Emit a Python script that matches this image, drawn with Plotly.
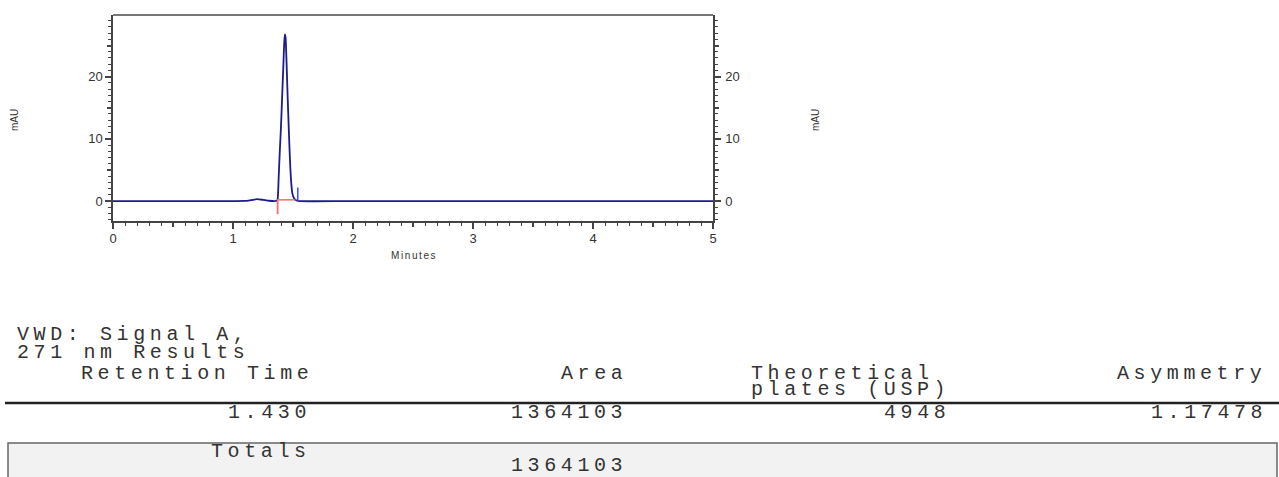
import plotly.graph_objects as go

# ---------------- data ----------------
time_min = [0.0, 0.5, 1.0, 1.10, 1.15, 1.20, 1.25, 1.30, 1.365, 1.372, 1.38, 1.39, 1.40, 1.41,
            1.42, 1.428, 1.433, 1.438, 1.445, 1.455, 1.465, 1.475, 1.485, 1.495, 1.51, 1.53,
            1.56, 2.0, 3.0, 4.0, 5.0]
signal_mau = [0.0, 0.0, 0.0, 0.02, 0.15, 0.3, 0.2, 0.05, 0.05, 0.3, 3.5, 8.0, 12.0, 17.0,
              22.0, 25.8, 26.8, 26.3, 23.0, 17.0, 11.5, 6.5, 3.0, 1.2, 0.4, 0.1,
              0.0, 0.0, 0.0, 0.0, 0.0]

baseline_x = [1.372, 1.52]
baseline_y = [0.2, 0.2]
start_marker_x = [1.372, 1.372]
start_marker_y = [0.3, -2.1]
end_marker_x = [1.54, 1.54]
end_marker_y = [0.0, 2.2]

x_range = [0, 5]
y_range = [-3.2, 29.9]

# ---------------- table text ----------------
table_title = ["VWD: Signal A,", "271 nm Results"]
col_headers = ["Retention Time", "Area", "Theoretical", "plates (USP)", "Asymmetry"]
row_values = ["1.430", "1364103", "4948", "1.17478"]
totals_label = "Totals"
totals_area = "1364103"

# ---------------- figure ----------------
W, H = 1279, 477
L, T, PW, PH = 113, 15, 600, 206
R, B = W - L - PW, H - T - PH

def px(xp):
    return (xp - L) / PW

def py(yp):
    return (T + PH - yp) / PH

LINE = "#1c1c8a"

fig = go.Figure()
fig.add_trace(go.Scatter(x=time_min, y=signal_mau, mode="lines", line_shape="spline",
                         line=dict(color=LINE, width=1.8, smoothing=0.6), showlegend=False,
                         hoverinfo="skip"))
fig.add_trace(go.Scatter(x=baseline_x, y=baseline_y, mode="lines",
                         line=dict(color="#ff6b6b", width=1.5), showlegend=False))
fig.add_trace(go.Scatter(x=start_marker_x, y=start_marker_y, mode="lines",
                         line=dict(color="#ff6b6b", width=1.8), showlegend=False))
fig.add_trace(go.Scatter(x=end_marker_x, y=end_marker_y, mode="lines",
                         line=dict(color="#3a4cff", width=1.5), showlegend=False))
# invisible traces to carry the overlay axes (medium ticks / right axis)
fig.add_trace(go.Scatter(x=[None], y=[None], xaxis="x2", yaxis="y2", showlegend=False))
fig.add_trace(go.Scatter(x=[None], y=[None], xaxis="x", yaxis="y3", showlegend=False))
fig.add_trace(go.Scatter(x=[None], y=[None], xaxis="x", yaxis="y4", showlegend=False))

tickfont = dict(family="Arial, Liberation Sans, sans-serif", size=13, color="#333")
AX = "#444"

fig.update_layout(
    width=W, height=H,
    margin=dict(l=L, r=R, t=T, b=B, pad=0, autoexpand=False),
    paper_bgcolor="white", plot_bgcolor="white",
    showlegend=False,
    xaxis=dict(range=x_range, dtick=1, tick0=0, ticks="outside", ticklen=6, tickwidth=1.5,
               tickcolor=AX, showline=True, linecolor=AX, linewidth=1.5, mirror=False,
               showgrid=False, zeroline=False, tickfont=tickfont, ticklabelstandoff=-1,
               automargin=False,
               minor=dict(dtick=0.1, ticks="outside", ticklen=3, tickcolor=AX, tickwidth=1.2,
                          showgrid=False)),
    xaxis2=dict(range=x_range, overlaying="x", side="bottom", anchor="y", dtick=0.5, tick0=0,
                ticks="outside", ticklen=5, tickwidth=1.5, tickcolor=AX, showticklabels=False,
                showline=False, showgrid=False, zeroline=False, automargin=False),
    yaxis=dict(range=y_range, dtick=10, tick0=0, ticks="outside", ticklen=6, tickwidth=1.5,
               tickcolor=AX, showline=True, linecolor=AX, linewidth=1.5, showgrid=False,
               zeroline=False, tickfont=tickfont, ticklabelstandoff=0, automargin=False,
               minor=dict(dtick=1, ticks="outside", ticklen=3, tickcolor=AX, tickwidth=1.2,
                          showgrid=False)),
    yaxis2=dict(range=y_range, overlaying="y", anchor="x2", side="left", dtick=5, tick0=0,
                ticks="outside", ticklen=5, tickwidth=1.5, tickcolor=AX, showticklabels=False,
                showline=False, showgrid=False, zeroline=False, automargin=False),
    yaxis3=dict(range=y_range, overlaying="y", anchor="x", side="right", dtick=10, tick0=0,
                ticks="outside", ticklen=6, tickwidth=1.5, tickcolor=AX, showline=True,
                linecolor=AX, linewidth=1.5, showgrid=False, zeroline=False, tickfont=tickfont,
                ticklabelstandoff=2, automargin=False,
                minor=dict(dtick=1, ticks="outside", ticklen=3, tickcolor=AX, tickwidth=1.2,
                           showgrid=False)),
    yaxis4=dict(range=y_range, overlaying="y", anchor="x", side="right", dtick=5, tick0=0,
                ticks="outside", ticklen=5, tickwidth=1.5, tickcolor=AX, showticklabels=False,
                showline=False, showgrid=False, zeroline=False, automargin=False),
)

shapes = [
    # top frame line
    dict(type="line", xref="paper", yref="paper", x0=0, x1=1, y0=1, y1=1,
         line=dict(color="#777", width=2)),
    # table rule
    dict(type="line", xref="paper", yref="paper", x0=px(5), x1=px(1290), y0=py(403), y1=py(403),
         line=dict(color="#222", width=2.5)),
    # totals box
    dict(type="rect", xref="paper", yref="paper", x0=px(8), x1=px(1277), y0=py(443), y1=py(490),
         fillcolor="#f2f2f2", line=dict(color="#666", width=1.5), layer="below"),
]
fig.update_layout(shapes=shapes)

small = dict(family="Arial, Liberation Sans, sans-serif", size=10, color="#333")
anns = [
    dict(text='<span style="letter-spacing:1.6px">Minutes</span>', x=px(414), y=py(256),
         font=small, xanchor="center", yanchor="middle"),
    dict(text="mAU", x=px(14), y=py(120), font=small, textangle=-90, xanchor="center", yanchor="middle"),
    dict(text="mAU", x=px(815), y=py(120), font=small, textangle=-90, xanchor="center", yanchor="middle"),
]

mono = dict(family="Liberation Mono, Courier New, monospace", size=20, color="#333")

def mtext(s, xl, yc):
    return dict(text='<span style="letter-spacing:4.6px">' + s + '</span>', x=px(xl), y=py(yc),
                xanchor="left", yanchor="middle", font=mono, showarrow=False,
                xref="paper", yref="paper", borderpad=0)

table = [
    mtext(table_title[0], 16, 334),
    mtext(table_title[1], 16, 352),
    mtext(col_headers[0], 80, 373),
    mtext(col_headers[1], 560, 373),
    mtext(col_headers[2], 750, 373),
    mtext(col_headers[3], 750, 389),
    mtext(col_headers[4], 1116, 373),
    mtext(row_values[0], 227, 412),
    mtext(row_values[1], 510, 412),
    mtext(row_values[2], 883, 412),
    mtext(row_values[3], 1150, 412),
    mtext(totals_label, 210, 451),
    mtext(totals_area, 510, 465),
]
for a in anns:
    a.update(xref="paper", yref="paper", showarrow=False)
fig.update_layout(annotations=anns + table)

fig.write_html("out.html", config={"displayModeBar": False},
               post_script="document.body.style.margin='0';document.body.style.overflow='hidden';")
